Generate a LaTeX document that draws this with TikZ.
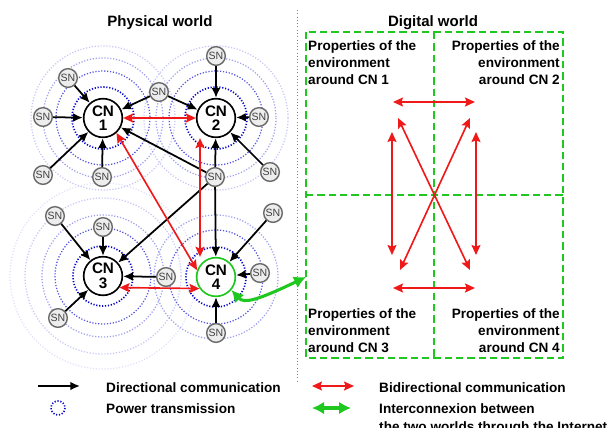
\documentclass[tikz,border=0pt]{standalone}
\usepackage{fontspec}
\setmainfont{Liberation Sans}
\usetikzlibrary{arrows.meta,calc}
\definecolor{cnred}{RGB}{240,25,25}
\definecolor{cngreen}{RGB}{30,200,30}
\definecolor{ringA}{RGB}{0,0,200}
\definecolor{ringB}{RGB}{85,85,225}
\definecolor{ringC}{RGB}{160,160,240}
\definecolor{ringD}{RGB}{200,200,246}
\definecolor{ringE}{RGB}{225,225,251}
\definecolor{sngray}{RGB}{105,105,105}
\tikzset{
  cn/.style={circle,draw,line width=1.4pt,fill=white,minimum size=11.6mm,inner sep=0pt,align=center,font=\bfseries\fontsize{13}{12.5}\selectfont},
  sn/.style={circle,draw=sngray,line width=1.2pt,fill=black!7,minimum size=5.6mm,inner sep=0pt,text=black!75,font=\fontsize{9}{9}\selectfont},
  ring/.style={line width=1.1pt,dash pattern=on 1pt off 1.5pt},
  dircom/.style={line width=1.5pt,-{Latex[length=2.9mm,width=2.6mm]}},
  bicom/.style={cnred,line width=1.4pt,{Stealth[length=3mm,width=2.7mm,inset=0.5mm]}-{Stealth[length=3mm,width=2.7mm,inset=0.5mm]}},
  link/.style={cngreen,line width=2.6pt,{Latex[length=3.6mm,width=3.8mm]}-{Latex[length=3.6mm,width=3.8mm]}},
  zone/.style={cngreen,line width=1.4pt,dash pattern=on 2.2mm off 1.2mm},
  zonetext/.style={inner sep=0pt,font=\bfseries\fontsize{11.6}{14.5}\selectfont},
  worldtitle/.style={font=\bfseries\fontsize{12.8}{15}\selectfont},
  legendtext/.style={anchor=base west,inner sep=0pt,font=\bfseries\fontsize{11.6}{14.5}\selectfont},
}

\begin{document}
\begin{tikzpicture}[x=0.3mm,y=-0.3mm]
    \useasboundingbox (0,0) rectangle (611,427);

    \coordinate (p1) at (103,118);
    \coordinate (p2) at (216,118);
    \coordinate (p3) at (103,276);
    \coordinate (p4) at (216,277);

    % power transmission
    \draw[ring,ringE] (p3) circle[radius=93];
    \draw[ring,ringD] (p3) circle[radius=78];
    \draw[ring,ringD] (p1) circle[radius=72];
    \draw[ring,ringD] (p2) circle[radius=72];
    \draw[ring,ringC] (p1) circle[radius=60];
    \draw[ring,ringC] (p2) circle[radius=60];
    \draw[ring,ringC] (p3) circle[radius=61];
    \draw[ring,ringC] (p4) circle[radius=62];
    \draw[ring,ringB] (p1) circle[radius=47];
    \draw[ring,ringB] (p2) circle[radius=47];
    \draw[ring,ringB] (p3) circle[radius=48];
    \draw[ring,ringB] (p4) circle[radius=47];
    \draw[ring,ringA,line width=1.4pt] (p1) circle[radius=31];
    \draw[ring,ringA,line width=1.4pt] (p2) circle[radius=31];
    \draw[ring,ringA,line width=1.4pt] (p3) circle[radius=30];
    \draw[ring,ringA,line width=1.4pt] (p4) circle[radius=30];

    \node[worldtitle,anchor=base] (phys) at (160,26.5) {Physical world};
    \node[worldtitle,anchor=base] (digi) at (433,26.5) {Digital world};
    \draw[gray,dotted,line width=0.8pt] (297,10) -- (297,383);

    \node[cn] (c1) at (p1) {CN\\1};
    \node[cn] (c2) at (p2) {CN\\2};
    \node[cn] (c3) at (p3) {CN\\3};
    \node[cn,draw=cngreen] (c4) at (p4) {CN\\4};

    \node[sn] (s11) at (68,78) {SN};
    \node[sn] (s12) at (43,117) {SN};
    \node[sn] (s13) at (43,175) {SN};
    \node[sn] (s14) at (102,177) {SN};
    \node[sn] (s5) at (159,92) {SN};
    \node[sn] (s21) at (216,56) {SN};
    \node[sn] (s22) at (259,117) {SN};
    \node[sn] (s23) at (270,172) {SN};
    \node[sn] (s6) at (215,177) {SN};
    \node[sn] (s31) at (55,216) {SN};
    \node[sn] (s32) at (103,227) {SN};
    \node[sn] (s33) at (166,277) {SN};
    \node[sn] (s34) at (58,318) {SN};
    \node[sn] (s41) at (273,213) {SN};
    \node[sn] (s42) at (260,273) {SN};
    \node[sn] (s43) at (216,333) {SN};

    \draw[dircom] (s11) -- (c1);
    \draw[dircom] (s12) -- (c1);
    \draw[dircom] (s13) -- (c1);
    \draw[dircom] (s14) -- (c1);
    \draw[dircom] (s5) -- (c1);
    \draw[dircom] (s6) -- (c1);

    \draw[dircom] (s21) -- (c2);
    \draw[dircom] (s22) -- (c2);
    \draw[dircom] (s23) -- (c2);
    \draw[dircom] (s5) -- (c2);
    \draw[dircom] (s6) -- (c2);

    \draw[dircom] (s31) -- (c3);
    \draw[dircom] (s32) -- (c3);
    \draw[dircom] (s33) -- (c3);
    \draw[dircom] (s34) -- (c3);
    \draw[dircom] (s6) -- (c3);

    \draw[dircom] (s41) -- (c4);
    \draw[dircom] (s42) -- (c4);
    \draw[dircom] (s43) -- (c4);
    \draw[dircom] (s6) -- (c4);

    \draw[bicom] (c1) -- (c2);
    \draw[bicom] (c1.-48) -- (c4.160);
    \draw[bicom] ($(c2.south)+(-16,0)$) -- ($(c4.north)+(-16,0)$);
    \draw[bicom] (c3.-35) -- (c4.215);

    % digital world
    \draw[zone] (306,32) rectangle (563,358);
    \draw[zone] (306,195) -- (563,195);
    \draw[zone] (434,32) -- (434,358);

    \node[zonetext,anchor=north west,align=left] (e1) at (308,40.5) {Properties of the\\environment\\around CN 1};
    \node[zonetext,anchor=north east,align=right] (e2) at (560,40.5) {Properties of the\\environment\\around CN 2};
    \node[zonetext,anchor=north west,align=left] (e3) at (308,308) {Properties of the\\environment\\around CN 3};
    \node[zonetext,anchor=north east,align=right] (e4) at (560,308) {Properties of the\\environment\\around CN 4};

    \coordinate (d1) at (393,102);
    \coordinate (d2) at (475,102);
    \coordinate (d3) at (393,288);
    \coordinate (d4) at (475,288);
    \coordinate (d5) at (392,132);
    \coordinate (d6) at (392,255);
    \coordinate (d7) at (476,132);
    \coordinate (d8) at (476,255);
    \coordinate (d9) at (398,118);
    \coordinate (d10) at (470,270);
    \coordinate (d11) at (470,118);
    \coordinate (d12) at (400,270);
    \draw[bicom] (d1) -- (d2);
    \draw[bicom] (d3) -- (d4);
    \draw[bicom] (d5) -- (d6);
    \draw[bicom] (d7) -- (d8);
    \draw[bicom] (d9) -- (d10);
    \draw[bicom] (d11) -- (d12);

    \coordinate (z3) at (306,277);
    \draw[link] (c4.-40) .. controls (244,304) and (258,300) .. (z3);

    % legend
    \coordinate (l1) at (38,386);
    \coordinate (l2) at (80,386);
    \coordinate (l3) at (312,386);
    \coordinate (l4) at (354,386);
    \coordinate (l5) at (312,408);
    \coordinate (l6) at (351,408);
    \draw[dircom] (l1) -- (l2);
    \draw[ring,ringA,line width=1.4pt] (58,408) circle[radius=7];
    \draw[bicom] (l3) -- (l4);
    \draw[link] (l5) -- (l6);
    \node[legendtext] (t1) at (106,392) {Directional communication};
    \node[legendtext] (t2) at (106,413) {Power transmission};
    \node[legendtext] (t3) at (379,392) {Bidirectional communication};
    \node[legendtext] (t4) at (379,413) {Interconnexion between};
    \node[legendtext] (t5) at (379,431) {the two worlds through the Internet};
\end{tikzpicture}
\end{document}
